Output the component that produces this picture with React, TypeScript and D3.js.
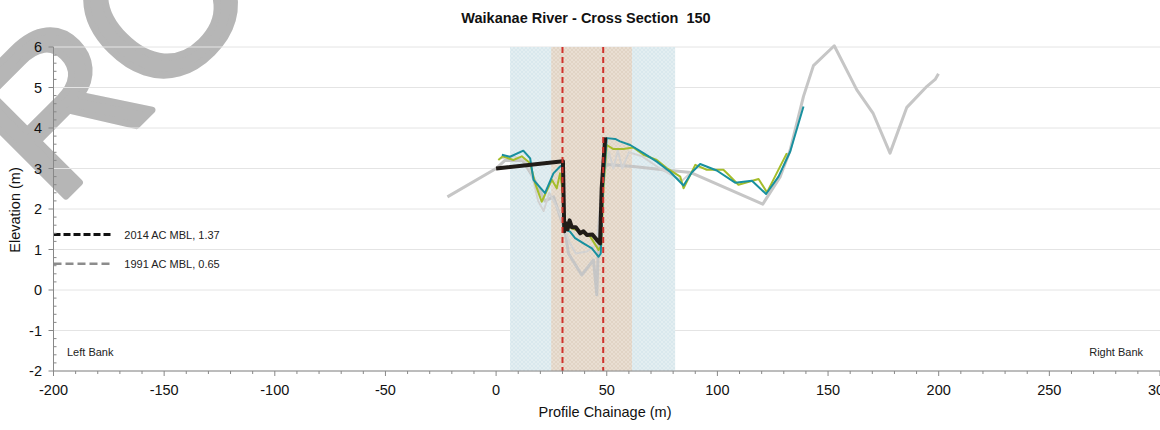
import React from 'react';
import * as d3 from 'd3';

const W = 1160;
const H = 430;

// Axis ticks
const xTicks = [-200, -150, -100, -50, 0, 50, 100, 150, 200, 250, 300];
const yTicks = [-2, -1, 0, 1, 2, 3, 4, 5, 6];

// Mean bed levels
const mblNames = ['2014 AC MBL, 1.37', '1991 AC MBL, 0.65'];
const mblValues = [1.37, 0.65];

// Zones (chainage)
const outerZone = [6.3, 80.9];
const innerZone = [24.9, 61.4];
const bankMarkers = [30.0, 48.4];

// 1991 / older survey (grey, wide extent)
const greyCh = [-22, 0, 4, 12, 16, 19, 22, 26, 29, 31.2, 32.7, 38.7, 44, 45.5, 46.5, 48.5, 50, 62, 75.5, 88, 120.5, 128.4, 132.9, 138.9, 143.4, 152.8, 163, 170.3, 178, 185.6, 194.7, 198.4, 199.9];
const greyEl = [2.3, 3.0, 3.2, 3.2, 2.85, 2.55, 2.2, 2.3, 1.8, 1.44, 0.9, 0.37, 0.74, -0.12, 1.6, 2.9, 3.1, 3.05, 2.97, 2.9, 2.12, 2.8, 3.46, 4.78, 5.54, 6.03, 4.94, 4.37, 3.38, 4.51, 5.03, 5.2, 5.34];

// Other historic survey (light grey)
const lightCh = [2, 8, 13, 16, 19, 21.5, 24, 27, 30, 33, 36, 41, 45, 47, 49, 51, 53, 55, 57, 60, 66, 74, 84, 90];
const lightEl = [3.25, 3.3, 3.2, 2.9, 2.2, 1.95, 2.4, 2.1, 1.7, 1.2, 0.9, 0.95, 1.1, 1.8, 3.0, 3.4, 3.0, 3.45, 3.0, 3.4, 3.3, 3.0, 2.7, 3.0];

// Yellow-green survey
const greenCh = [1, 3, 7.8, 11.6, 15.4, 17.6, 20.6, 25.2, 27.4, 28.9, 30, 31, 34.2, 38, 42.5, 46.3, 47.5, 48.5, 50, 53, 57.5, 62, 66.6, 72.6, 77.1, 83.2, 84.7, 90, 95.2, 102.7, 104, 109.5, 118.6, 122.4, 131.4];
const greenEl = [3.21, 3.3, 3.21, 3.3, 3.13, 2.64, 2.18, 2.72, 2.51, 2.88, 2.5, 1.6, 1.52, 1.44, 1.32, 0.99, 1.1, 2.5, 3.58, 3.48, 3.48, 3.52, 3.34, 3.21, 3.01, 2.8, 2.51, 3.09, 2.97, 2.97, 2.9, 2.6, 2.74, 2.41, 3.38];

// Teal survey
const tealCh = [2.6, 6.3, 12.3, 15.4, 16.9, 22.1, 25.9, 28.9, 30.2, 31, 33.4, 35.7, 39.5, 43.3, 46.3, 47.3, 48.3, 50, 53.8, 56, 60.6, 66.6, 72.6, 78.6, 84.7, 88.4, 92.2, 99.7, 108, 115.6, 122, 127.6, 132.9, 138.9];
const tealEl = [3.34, 3.29, 3.44, 3.25, 2.72, 2.39, 2.88, 3.05, 3.1, 1.5, 1.44, 1.28, 1.15, 1.03, 0.82, 0.9, 2.5, 3.75, 3.73, 3.67, 3.58, 3.38, 3.17, 2.92, 2.58, 2.9, 3.11, 2.95, 2.65, 2.7, 2.37, 2.8, 3.42, 4.53];

// 2014 survey (black)
const blackCh = [0, 30.2, 30.8, 31.5, 32.3, 33.2, 34.2, 36, 38, 39.5, 41, 43.5, 45.5, 47, 47.7, 49.3];
const blackEl = [3.0, 3.18, 1.45, 1.65, 1.5, 1.72, 1.55, 1.55, 1.4, 1.45, 1.36, 1.37, 1.24, 1.15, 2.5, 3.77];

const FONT = 'Liberation Sans, Arial, Helvetica, sans-serif';

function zip(a: number[], b: number[]): [number, number][] {
  return a.map((v, i) => [v, b[i]] as [number, number]);
}

export default function App() {
  const left = 53.5, right = 1160, top = 47, bottom = 371;
  const x = d3.scaleLinear().domain([-200, 300]).range([left, right]);
  const y = d3.scaleLinear().domain([-2, 6]).range([bottom, top]);
  const line = d3.line<[number, number]>().x(d => x(d[0])).y(d => y(d[1]));

  const xMinor = d3.range(-200, 301, 10).filter(v => v % 50 !== 0);
  const yMinor = d3.range(-2, 6.001, 0.2).map(v => Math.round(v * 10) / 10).filter(v => Math.abs(v - Math.round(v)) > 1e-6);

  return (
    <svg width={W} height={H} style={{ position: 'absolute', left: 0, top: 0, background: '#fff' }} fontFamily={FONT}>
      <defs>
        <pattern id="hatchBlue" width="4" height="4" patternUnits="userSpaceOnUse">
          <rect width="4" height="4" fill="#d9e8ed" />
          <path d="M0,4 L4,0 M0,0 L4,4" stroke="#e6f0f3" strokeWidth="0.8" />
        </pattern>
        <pattern id="hatchTan" width="4" height="4" patternUnits="userSpaceOnUse">
          <rect width="4" height="4" fill="#e1d4c5" />
          <path d="M0,4 L4,0 M0,0 L4,4" stroke="#ebe1d6" strokeWidth="0.8" />
        </pattern>
      </defs>

      {/* watermark */}
      <text transform="translate(54,208) rotate(-45)" fontSize={205} fill="#b6b6b6" stroke="#b6b6b6" strokeWidth={7} strokeLinejoin="round" letterSpacing={-6} fontFamily={FONT}>RO</text>

      {/* gridlines */}
      {yTicks.map(t => (
        <line key={'g' + t} x1={left} x2={right} y1={y(t)} y2={y(t)} stroke="#e4e4e4" strokeWidth={1} />
      ))}

      {/* zones */}
      <rect x={x(outerZone[0])} y={top} width={x(outerZone[1]) - x(outerZone[0])} height={bottom - top} fill="url(#hatchBlue)" />
      <rect x={x(innerZone[0])} y={top} width={x(innerZone[1]) - x(innerZone[0])} height={bottom - top} fill="url(#hatchTan)" />

      {/* survey lines */}
      <path d={line(zip(greyCh, greyEl)) || ''} fill="none" stroke="#c6c6c6" strokeWidth={3} strokeLinejoin="round" />
      <path d={line(zip(lightCh, lightEl)) || ''} fill="none" stroke="#d2d2d2" strokeWidth={2} strokeLinejoin="round" />
      <path d={line(zip(greenCh, greenEl)) || ''} fill="none" stroke="#a5bd2a" strokeWidth={2} strokeLinejoin="round" />
      <path d={line(zip(tealCh, tealEl)) || ''} fill="none" stroke="#18909f" strokeWidth={2} strokeLinejoin="round" />
      <path d={line(zip(blackCh, blackEl)) || ''} fill="none" stroke="#211c18" strokeWidth={4} strokeLinejoin="round" />

      {/* bank markers */}
      {bankMarkers.map(b => (
        <line key={'b' + b} x1={x(b)} x2={x(b)} y1={top} y2={bottom} stroke="#d0312b" strokeWidth={2} strokeDasharray="6,4" />
      ))}

      {/* MBL legend lines */}
      {mblValues.map((v, i) => (
        <g key={'m' + i}>
          <line x1={x(-200)} x2={x(-174)} y1={y(v)} y2={y(v)} stroke={i === 0 ? '#111' : '#8c8c8c'} strokeWidth={i === 0 ? 3 : 2.5} strokeDasharray={i === 0 ? '7,3' : '8,4'} />
          <text x={x(-168)} y={y(v) + 4} fontSize={11} fill="#222">{mblNames[i]}</text>
        </g>
      ))}

      {/* axes */}
      <line x1={left} x2={right} y1={bottom} y2={bottom} stroke="#888" strokeWidth={1} />
      <line x1={left} x2={left} y1={top} y2={bottom} stroke="#888" strokeWidth={1} />
      {xTicks.map(t => (
        <g key={'xt' + t}>
          <line x1={x(t)} x2={x(t)} y1={bottom} y2={bottom + 5} stroke="#888" />
          <text x={x(t)} y={bottom + 24} fontSize={14.5} textAnchor="middle" fill="#111">{t}</text>
        </g>
      ))}
      {xMinor.map(t => (
        <line key={'xm' + t} x1={x(t)} x2={x(t)} y1={bottom} y2={bottom + 3} stroke="#888" />
      ))}
      {yTicks.map(t => (
        <g key={'yt' + t}>
          <line x1={left - 5} x2={left} y1={y(t)} y2={y(t)} stroke="#888" />
          <text x={42} y={y(t) + 5} fontSize={14.5} textAnchor="end" fill="#111">{t}</text>
        </g>
      ))}
      {yMinor.map(t => (
        <line key={'ym' + t} x1={left} x2={left + 3} y1={y(t)} y2={y(t)} stroke="#888" />
      ))}

      {/* bank labels */}
      <text x={67} y={356} fontSize={11} fill="#222">Left Bank</text>
      <text x={1143} y={356} fontSize={11} fill="#222" textAnchor="end">Right Bank</text>

      {/* titles */}
      <text x={586} y={23} fontSize={14.5} fontWeight="bold" textAnchor="middle" fill="#111" style={{ whiteSpace: 'pre' }}>{'Waikanae River - Cross Section  150'}</text>
      <text x={605} y={417} fontSize={14.5} textAnchor="middle" fill="#111">Profile Chainage (m)</text>
      <text transform={`translate(20,210) rotate(-90)`} fontSize={14.5} textAnchor="middle" fill="#111">Elevation (m)</text>
    </svg>
  );
}
